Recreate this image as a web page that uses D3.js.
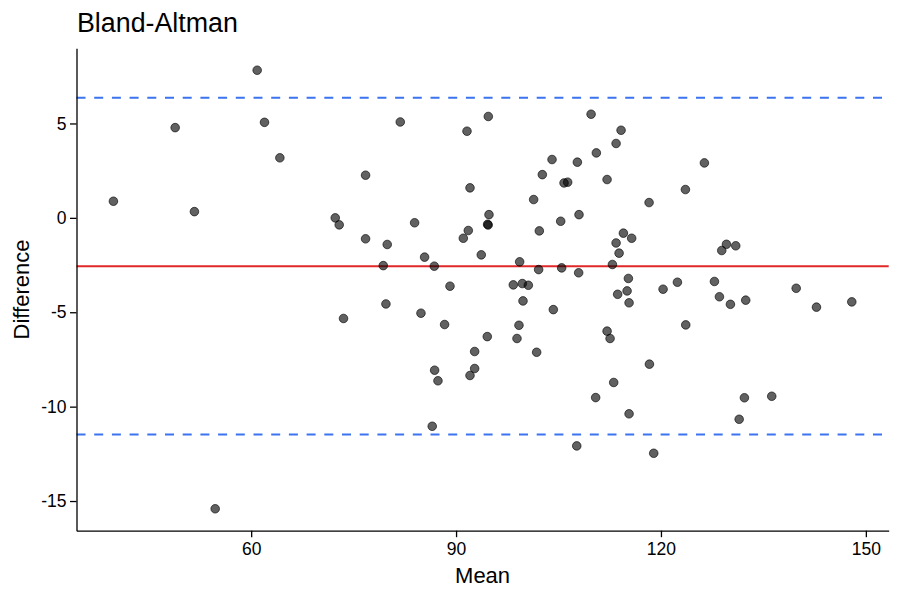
<!DOCTYPE html>
<html>
<head>
<meta charset="utf-8">
<script src="https://cdn.jsdelivr.net/npm/d3@7"></script>
<style>
  body { margin: 0; background: #fff; }
  svg { font-family: "Liberation Sans", Arial, sans-serif; }
</style>
</head>
<body>
<div id="chart"></div>
<script>
// Values
var meanVals = [
  39.83, 48.87, 51.69, 60.88, 61.95, 64.2, 54.73,
  81.83, 91.6, 94.72, 109.77, 110.54, 104.05, 107.76, 102.63, 105.81, 106.34,
  101.36, 108.0, 105.32, 102.19, 76.75, 92.04, 72.31, 72.89, 83.93, 94.82,
  94.62, 94.7, 91.79, 91.06, 76.75, 79.92, 93.69, 85.39, 79.34, 86.81, 99.31,
  102.09, 105.46, 107.95, 89.11, 98.38, 99.7, 100.58, 99.8,
  114.16, 113.43, 112.11, 126.36, 123.58, 118.26, 114.5, 113.43, 115.71, 113.87,
  112.89, 129.59, 128.9, 130.95, 115.23, 115.04, 113.66, 120.31, 122.41, 127.83,
  139.8, 115.33, 128.56, 130.17, 132.41, 142.77, 147.94,
  112.11, 112.55, 123.63, 118.31, 113.08, 110.44, 115.33, 132.22, 136.22, 131.45, 118.94,
  73.52, 79.73, 84.86, 88.32, 104.24, 99.21, 98.92, 94.57, 92.72, 101.8,
  86.86, 87.35, 92.72, 92.04, 86.51, 107.67
];
var diffVals = [
  0.88, 4.78, 0.33, 7.82, 5.06, 3.18, -15.41,
  5.08, 4.59, 5.37, 5.49, 3.44, 3.09, 2.95, 2.29, 1.85, 1.89,
  0.97, 0.17, -0.18, -0.69, 2.26, 1.59, 0.0, -0.37, -0.26, 0.17,
  -0.34, -0.38, -0.67, -1.08, -1.11, -1.41, -1.96, -2.08, -2.53, -2.56, -2.33,
  -2.74, -2.65, -2.91, -3.62, -3.55, -3.48, -3.57, -4.4,
  4.64, 3.94, 2.03, 2.91, 1.5, 0.81, -0.81, -1.33, -1.08, -1.87,
  -2.47, -1.4, -1.73, -1.48, -3.21, -3.87, -4.05, -3.78, -3.41, -3.37,
  -3.73, -4.5, -4.18, -4.58, -4.36, -4.73, -4.45,
  -6.0, -6.39, -5.67, -7.75, -8.72, -9.52, -10.38, -9.53, -9.45, -10.67, -12.47,
  -5.33, -4.56, -5.05, -5.65, -4.86, -5.69, -6.39, -6.29, -7.08, -7.12,
  -8.07, -8.63, -7.98, -8.35, -11.04, -12.08
];
var meanDiff = -2.56;
var upperLoA = 6.36;
var lowerLoA = -11.48;
var xTicks = [60, 90, 120, 150];
var yTicks = [5, 0, -5, -10, -15];

var width = 900, height = 600;
var margin = {top: 48.3, right: 11.3, bottom: 69.3, left: 76.5};

var points = meanVals.map(function(m, i){ return {mean: m, diff: diffVals[i]}; });

//ggplot style 5% expansion
var xExt = d3.extent(meanVals), yExt = d3.extent(diffVals);
var xPad = (xExt[1] - xExt[0]) * 0.05, yPad = (yExt[1] - yExt[0]) * 0.05;

var x = d3.scaleLinear().domain([xExt[0] - xPad, xExt[1] + xPad]).range([margin.left, width - margin.right]);
var y = d3.scaleLinear().domain([yExt[0] - yPad, yExt[1] + yPad]).range([height - margin.bottom, margin.top]);

var svg = d3.select('#chart').append('svg').attr('width', width).attr('height', height);

//Reference lines
svg.append('line')
  .attr('x1', margin.left).attr('x2', width - margin.right)
  .attr('y1', y(meanDiff)).attr('y2', y(meanDiff))
  .attr('stroke', '#e0282a').attr('stroke-width', 2);

[upperLoA, lowerLoA].forEach(function(v){
  svg.append('line')
    .attr('x1', margin.left).attr('x2', width - margin.right)
    .attr('y1', y(v)).attr('y2', y(v))
    .attr('stroke', '#3b73f0').attr('stroke-width', 2)
    .attr('stroke-dasharray', '9,8.7');
});

//Points
svg.append('g').selectAll('circle').data(points).enter().append('circle')
  .attr('cx', function(d){ return x(d.mean); })
  .attr('cy', function(d){ return y(d.diff); })
  .attr('r', 4.3)
  .attr('fill', '#000').attr('fill-opacity', 0.62)
  .attr('stroke', '#000').attr('stroke-opacity', 0.62).attr('stroke-width', 1);

//Axes (plain hyphen for negatives, like the reference)
var plain = function(d){ return String(d); };
var xAxis = svg.append('g')
  .attr('transform', 'translate(0,' + (height - margin.bottom) + ')')
  .call(d3.axisBottom(x).tickValues(xTicks).tickFormat(plain).tickSize(6.5).tickPadding(5).tickSizeOuter(0));
var yAxis = svg.append('g')
  .attr('transform', 'translate(' + margin.left + ',0)')
  .call(d3.axisLeft(y).tickValues(yTicks).tickFormat(plain).tickSize(6.5).tickPadding(3.5).tickSizeOuter(0));

[xAxis, yAxis].forEach(function(ax){
  ax.select('.domain').attr('stroke', '#000').attr('stroke-width', 1.3);
  ax.selectAll('.tick line').attr('stroke', '#000').attr('stroke-width', 1.3);
  ax.selectAll('.tick text').attr('fill', '#000').style('font-size', '17.5px')
    .style('font-family', '"Liberation Sans", Arial, sans-serif');
});

//Titles
svg.append('text').attr('x', 77).attr('y', 32)
  .style('font-size', '26.8px').attr('fill', '#000').text('Bland-Altman');

svg.append('text').attr('x', (margin.left + width - margin.right) / 2).attr('y', 583)
  .attr('text-anchor', 'middle').style('font-size', '22px').attr('fill', '#000').text('Mean');

svg.append('text')
  .attr('transform', 'translate(29,' + ((margin.top + height - margin.bottom) / 2) + ') rotate(-90)')
  .attr('text-anchor', 'middle').style('font-size', '22px').attr('fill', '#000').text('Difference');
</script>
</body>
</html>
